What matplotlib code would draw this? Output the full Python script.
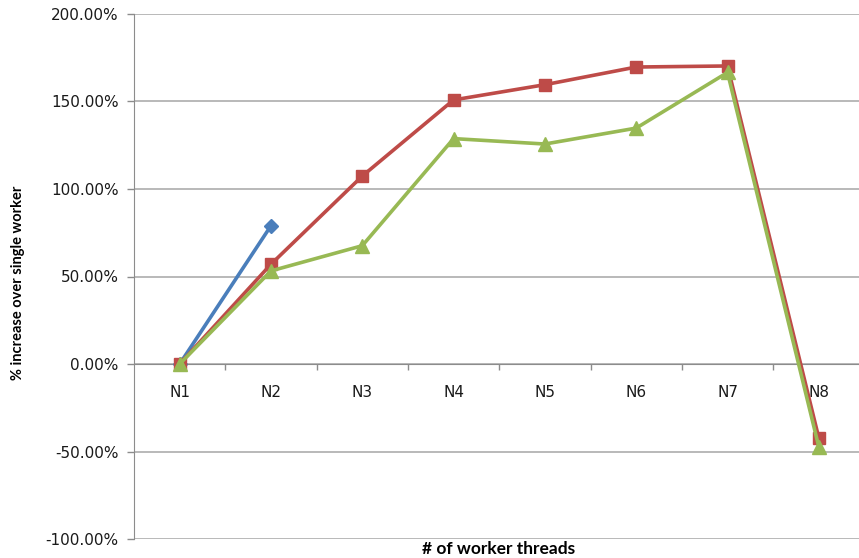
import numpy as np
import matplotlib
matplotlib.use("Agg")
import matplotlib.pyplot as plt
from matplotlib.ticker import FuncFormatter, FixedLocator

# Data
threads = ["N1", "N2", "N3", "N4", "N5", "N6", "N7", "N8"]
series_blue = [0.0, 79.0]
series_red = [0.0, 57.0, 107.4, 150.9, 159.6, 169.7, 170.3, -42.3]
series_green = [0.0, 53.2, 67.6, 128.8, 125.7, 134.8, 166.6, -47.4]

blue = "#4a7ebb"
red = "#be4b48"
green = "#98b954"

fig = plt.figure(figsize=(8.59, 5.58), dpi=100)
ax = fig.add_axes([134 / 859, 19 / 558, 1 - 134 / 859, 525 / 558])

x = np.arange(len(threads))
ax.plot(x[:len(series_blue)], series_blue, color=blue, lw=2.6, marker="D",
        markersize=7, zorder=3)
ax.plot(x, series_red, color=red, lw=2.6, marker="s", markersize=9, zorder=4)
ax.plot(x, series_green, color=green, lw=2.6, marker="^", markersize=10, zorder=5)

ax.set_xlim(-0.5, 7.44)
ax.set_ylim(-100, 200)

# y axis
ax.set_yticks(np.arange(-100, 201, 50))
ax.yaxis.set_major_formatter(FuncFormatter(lambda v, p: f"{v:.2f}%"))
ax.grid(axis="y", color="#a6a6a6", lw=1.1)
ax.set_axisbelow(True)
ax.tick_params(axis="y", length=5, width=1, color="#8c8c8c", labelsize=11,
               labelcolor="#1a1a1a", pad=6)

# x axis crosses at zero, ticks between categories
ax.spines["bottom"].set_position(("data", 0))
ax.spines["bottom"].set_color("#8c8c8c")
ax.spines["left"].set_color("#8c8c8c")
ax.spines["top"].set_visible(False)
ax.spines["right"].set_visible(False)
ax.set_xticks(x)
ax.set_xticklabels(threads)
ax.xaxis.set_minor_locator(FixedLocator(x[:-1] + 0.5))
ax.tick_params(axis="x", which="major", length=0, labelsize=11,
               labelcolor="#1a1a1a", pad=15)
ax.tick_params(axis="x", which="minor", length=4, width=1, color="#8c8c8c",
               direction="out")

fig.text(499 / 859, 1 / 558, "# of worker threads", ha="center", va="bottom",
         fontsize=12.5, fontweight="bold", family="Lato")
fig.text(18 / 859, 275 / 558, "% increase over single worker", ha="center",
         va="center", rotation=90, fontsize=10.5, fontweight="bold", family="Lato")

fig.savefig("out.png", dpi=100)
